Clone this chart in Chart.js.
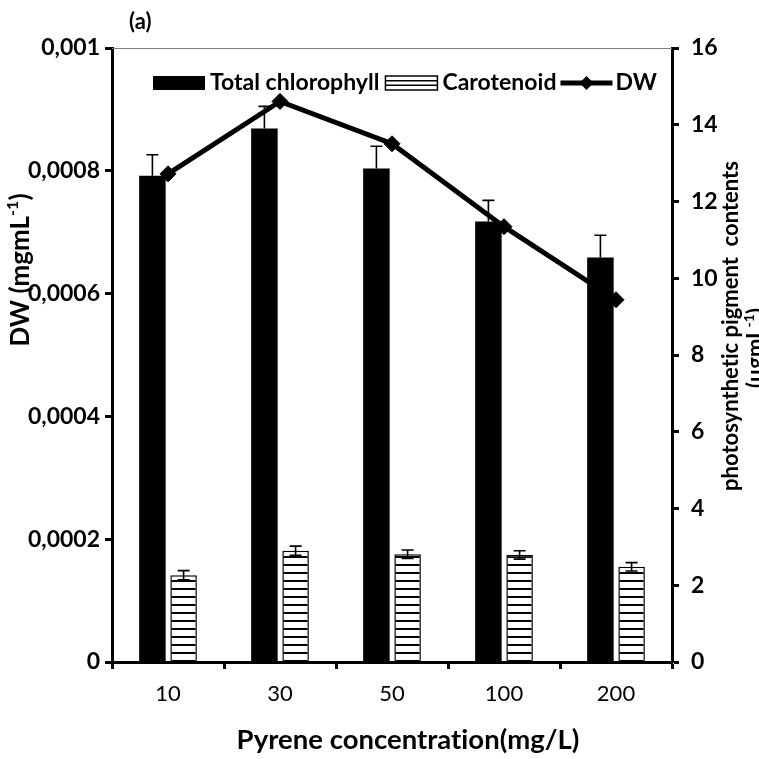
<!DOCTYPE html>
<html><head><meta charset="utf-8">
<script src="https://cdn.jsdelivr.net/npm/chart.js@4"></script>
<style>html,body{margin:0;padding:0;background:#fff}canvas{display:block}</style>
</head><body>
<canvas id="c" width="759" height="759"></canvas>
<script>
// ---- data ----
const categories = ['10', '30', '50', '100', '200'];
const chlorophyll = [12.67, 13.90, 12.86, 11.48, 10.54];
const chlorophyllErr = [0.55, 0.58, 0.58, 0.55, 0.58];
const carotenoid = [2.26, 2.90, 2.81, 2.79, 2.48];
const carotenoidErr = [0.12, 0.12, 0.11, 0.11, 0.11];
const dw = [0.000795, 0.000913, 0.000844, 0.000709, 0.000590];
const leftTicks = [0, 0.0002, 0.0004, 0.0006, 0.0008, 0.001];
const leftTickLabels = ['0', '0,0002', '0,0004', '0,0006', '0,0008', '0,001'];
const rightTicks = [0, 2, 4, 6, 8, 10, 12, 14, 16];
const seriesNames = ['Total chlorophyll', 'Carotenoid', 'DW'];

const FONT = 'Lato';

function makeStripes(ctx) {
  const p = document.createElement('canvas');
  p.width = 8; p.height = 8;
  const g = p.getContext('2d');
  g.fillStyle = '#fff'; g.fillRect(0, 0, 8, 8);
  g.fillStyle = '#000'; g.fillRect(0, 4, 8, 2);
  return ctx.createPattern(p, 'repeat');
}

const errorBars = {
  id: 'errorBars',
  afterDatasetDraw(chart, args) {
    const meta = args.meta;
    if (meta.type !== 'bar') return;
    const ds = chart.data.datasets[args.index];
    const errs = ds.errors;
    const scale = chart.scales[ds.yAxisID];
    const ctx = chart.ctx;
    ctx.save();
    ctx.strokeStyle = '#000';
    ctx.lineWidth = 1.6;
    meta.data.forEach((el, i) => {
      const v = ds.data[i], e = errs[i];
      const x = el.x;
      const yTop = scale.getPixelForValue(v + e);
      const yBot = ds.bothSides ? scale.getPixelForValue(v - e) : scale.getPixelForValue(v);
      ctx.beginPath();
      ctx.moveTo(x, yBot); ctx.lineTo(x, yTop);
      ctx.moveTo(x - 6, yTop); ctx.lineTo(x + 6, yTop);
      if (ds.bothSides) { ctx.moveTo(x - 6, yBot); ctx.lineTo(x + 6, yBot); }
      ctx.stroke();
    });
    ctx.restore();
  }
};

function noLig(ctx) {
  if ('letterSpacing' in ctx) ctx.letterSpacing = '0.01px';
}

function drawRotated(ctx, parts, cx, cy, baseSize) {
  ctx.save();
  noLig(ctx);
  ctx.translate(cx, cy);
  ctx.rotate(-Math.PI / 2);
  let total = 0;
  parts.forEach(p => {
    ctx.font = 'bold ' + (p.sup ? Math.round(baseSize * 0.62) : baseSize) + 'px ' + FONT;
    p.w = ctx.measureText(p.t).width; total += p.w;
  });
  let x = -total / 2;
  ctx.textBaseline = 'middle';
  ctx.textAlign = 'left';
  ctx.fillStyle = '#000';
  parts.forEach(p => {
    ctx.font = 'bold ' + (p.sup ? Math.round(baseSize * 0.62) : baseSize) + 'px ' + FONT;
    ctx.fillText(p.t, x, p.sup ? -baseSize * 0.3 : 0);
    x += p.w;
  });
  ctx.restore();
}

const decor = {
  id: 'decor',
  afterDraw(chart) {
    const ctx = chart.ctx;
    const a = chart.chartArea;
    ctx.save();
    noLig(ctx);
    // top thin border
    ctx.strokeStyle = '#808080'; ctx.lineWidth = 1;
    ctx.beginPath(); ctx.moveTo(a.left, a.top + 0.5); ctx.lineTo(a.right, a.top + 0.5); ctx.stroke();

    ctx.fillStyle = '#000';
    // (a)
    ctx.font = 'bold 22px ' + FONT;
    ctx.textAlign = 'left'; ctx.textBaseline = 'middle';
    ctx.fillText('(a)', 129, 22);
    // x title
    ctx.font = 'bold 27.5px ' + FONT;
    ctx.textAlign = 'center';
    ctx.fillText('Pyrene concentration(mg/L)', 408, 740);
    // y titles
    drawRotated(ctx, [{t: 'DW (mgmL'}, {t: '-1', sup: true}, {t: ')'}], 21, 270, 26);
    drawRotated(ctx, [{t: 'photosynthetic pigment  contents'}], 731, 326, 22);
    drawRotated(ctx, [{t: '(μgmL'}, {t: '-1', sup: true}, {t: ')'}], 756, 348, 22);

    // legend
    ctx.font = 'bold 23px ' + FONT;
    ctx.textAlign = 'left';
    const ly = 83, bh = 14, bw = 52;
    let x = 153;
    ctx.fillStyle = '#000';
    ctx.fillRect(x, ly - bh / 2, bw, bh);
    x += bw + 5;
    ctx.fillText(seriesNames[0], x, ly);
    x += ctx.measureText(seriesNames[0]).width + 6;
    ctx.fillStyle = '#fff';
    ctx.fillRect(x, ly - bh / 2, bw, bh);
    ctx.strokeStyle = '#000'; ctx.lineWidth = 1.5;
    ctx.strokeRect(x, ly - bh / 2, bw, bh);
    ctx.beginPath();
    ctx.moveTo(x, ly - 2.3); ctx.lineTo(x + bw, ly - 2.3);
    ctx.moveTo(x, ly + 2.3); ctx.lineTo(x + bw, ly + 2.3);
    ctx.stroke();
    x += bw + 5;
    ctx.fillStyle = '#000';
    ctx.fillText(seriesNames[1], x, ly);
    x += ctx.measureText(seriesNames[1]).width + 4;
    ctx.lineWidth = 5;
    ctx.beginPath(); ctx.moveTo(x, ly); ctx.lineTo(x + bw, ly); ctx.stroke();
    ctx.beginPath();
    const cx = x + bw / 2, r = 7;
    ctx.moveTo(cx, ly - r); ctx.lineTo(cx + r, ly); ctx.lineTo(cx, ly + r); ctx.lineTo(cx - r, ly); ctx.closePath();
    ctx.fill();
    x += bw + 3;
    ctx.fillText(seriesNames[2], x, ly);
    ctx.restore();
  }
};

function build() {
  const canvas = document.getElementById('c');
  const ctx = canvas.getContext('2d');
  const stripes = makeStripes(ctx);
  new Chart(ctx, {
    type: 'bar',
    data: {
      labels: categories,
      datasets: [
        {
          type: 'line', label: seriesNames[2], data: dw, yAxisID: 'yL', order: 0,
          borderColor: '#000', borderWidth: 5, tension: 0,
          pointStyle: 'rectRot', pointRadius: 8, pointBackgroundColor: '#000',
          pointBorderColor: '#000', pointBorderWidth: 1, fill: false
        },
        {
          label: seriesNames[0], data: chlorophyll, errors: chlorophyllErr, bothSides: false,
          yAxisID: 'yR', order: 1, backgroundColor: '#000', borderWidth: 0,
          categoryPercentage: 0.557, barPercentage: 0.85
        },
        {
          label: seriesNames[1], data: carotenoid, errors: carotenoidErr, bothSides: true,
          yAxisID: 'yR', order: 1, backgroundColor: stripes, borderColor: '#000', borderWidth: 1.5,
          categoryPercentage: 0.557, barPercentage: 0.85
        }
      ]
    },
    options: {
      responsive: false, animation: false, devicePixelRatio: 1,
      layout: { padding: { top: 48, left: 0, right: 0, bottom: 0 } },
      plugins: { legend: { display: false }, tooltip: { enabled: false }, title: { display: false } },
      scales: {
        x: {
          type: 'category', offset: true,
          grid: { display: true, drawOnChartArea: false, drawTicks: true, tickLength: 7, tickWidth: 3, tickColor: '#000', offset: true },
          border: { display: true, color: '#000', width: 3 },
          ticks: { color: '#000', font: { family: FONT, size: 22 }, padding: 12, maxRotation: 0 },
          afterFit: s => { s.height = 97; }
        },
        yL: {
          position: 'left', min: 0, max: 0.001,
          afterBuildTicks: s => { s.ticks = leftTicks.map(v => ({ value: v })); },
          grid: { display: true, drawOnChartArea: false, drawTicks: true, tickLength: 7, tickWidth: 3, tickColor: '#000' },
          border: { display: true, color: '#000', width: 3 },
          ticks: { color: '#000', font: { family: FONT, size: 23, weight: 'bold' }, padding: 5,
                   callback: (v, i) => leftTickLabels[i] },
          afterFit: s => { s.width = 112; }
        },
        yR: {
          position: 'right', min: 0, max: 16,
          afterBuildTicks: s => { s.ticks = rightTicks.map(v => ({ value: v })); },
          grid: { display: true, drawOnChartArea: false, drawTicks: true, tickLength: 7, tickWidth: 3, tickColor: '#000' },
          border: { display: true, color: '#000', width: 3 },
          ticks: { color: '#000', font: { family: FONT, size: 23, weight: 'bold' }, padding: 12,
                   callback: v => String(v) },
          afterFit: s => { s.width = 87; }
        }
      }
    },
    plugins: [errorBars, decor]
  });
}

Promise.all([
  document.fonts.load('bold 20px Lato'),
  document.fonts.load('20px Lato')
]).then(build, build);
</script>
</body></html>
